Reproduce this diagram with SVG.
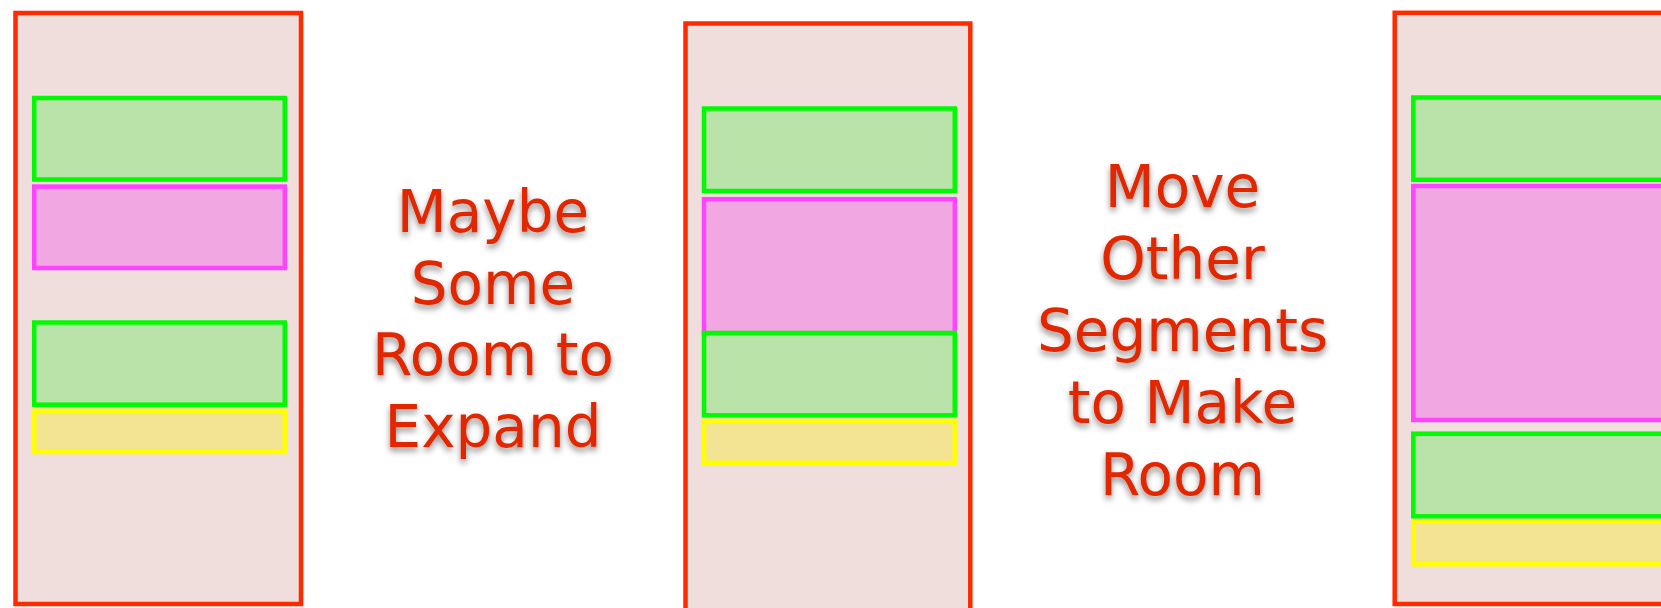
<svg xmlns="http://www.w3.org/2000/svg" width="1661" height="608" viewBox="0 0 1661 608">
<defs>
<filter id="shadow" x="-20%" y="-20%" width="140%" height="160%">
<feDropShadow dx="0" dy="4" stdDeviation="3" flood-color="#000" flood-opacity="0.45"/>
</filter>
<style>
.outer{fill:#EFDEDC;stroke:#FF2A00;stroke-width:4.5}
.grn{fill:#B9E3A8;stroke:#00FA00;stroke-width:4.5}
.pnk{fill:#F1A8E2;stroke:#FF44FF;stroke-width:4.5}
.yel{fill:#F2E492;stroke:#FFFF00;stroke-width:4.5}
.lbl{font-family:"DejaVu Sans","Liberation Sans",sans-serif;font-size:58px;fill:#E22800;text-anchor:middle;filter:url(#shadow)}
</style>
</defs>
<rect width="1661" height="608" fill="#FFFFFF"/>
<g id="panel1">
<rect class="outer" x="15.5" y="13" width="285.5" height="591"/>
<rect class="grn" x="34.2" y="98" width="250.6" height="81.5"/>
<rect class="pnk" x="34.2" y="186.6" width="250.6" height="81.4"/>
<rect class="grn" x="34.2" y="322.5" width="250.6" height="82.2"/>
<rect class="yel" x="34.2" y="410.9" width="250.6" height="41.1"/>
</g>
<g id="label1">
<text class="lbl" x="493" y="232">Maybe</text>
<text class="lbl" x="493" y="304">Some</text>
<text class="lbl" x="493" y="375">Room to</text>
<text class="lbl" x="493" y="447">Expand</text>
</g>
<g id="panel2">
<rect class="outer" x="685.5" y="23.5" width="284.8" height="600"/>
<rect class="grn" x="704" y="108.5" width="250.8" height="82.5"/>
<rect class="pnk" x="704" y="199.2" width="250.8" height="134"/>
<rect class="grn" x="704" y="333" width="250.8" height="82.3"/>
<rect class="yel" x="704" y="421" width="250.8" height="41.8"/>
</g>
<g id="label2">
<text class="lbl" x="1182.5" y="207">Move</text>
<text class="lbl" x="1182.5" y="279">Other</text>
<text class="lbl" x="1182.5" y="351">Segments</text>
<text class="lbl" x="1182.5" y="423">to Make</text>
<text class="lbl" x="1182.5" y="495">Room</text>
</g>
<g id="panel3">
<rect class="outer" x="1394.7" y="12.8" width="285" height="591.2"/>
<rect class="grn" x="1413.3" y="97.5" width="250.8" height="82.3"/>
<rect class="pnk" x="1413.3" y="186" width="250.8" height="234"/>
<rect class="grn" x="1413.3" y="433.7" width="250.8" height="82.6"/>
<rect class="yel" x="1413.3" y="521.3" width="250.8" height="43"/>
</g>
<g id="connectors"/>
</svg>
